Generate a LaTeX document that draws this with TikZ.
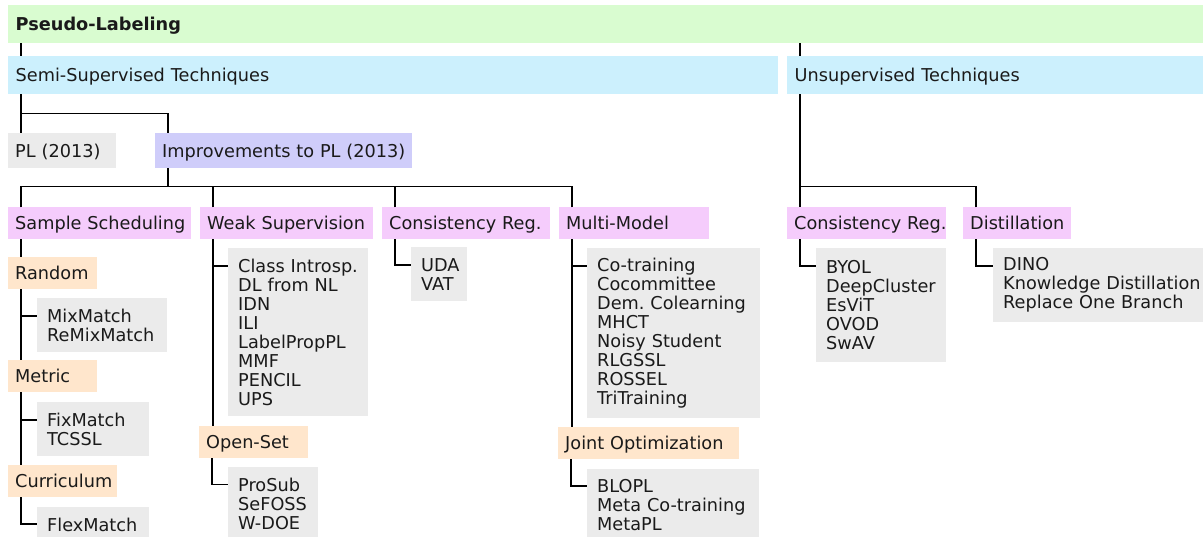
\documentclass[tikz,border=0pt]{standalone}
\usepackage{fontspec}
\setmainfont{DejaVu Sans}
\usetikzlibrary{calc}
\definecolor{rootgreen}{HTML}{D9FCD0}
\definecolor{techblue}{HTML}{CCF0FD}
\definecolor{imprviolet}{HTML}{CFCDFA}
\definecolor{grouppink}{HTML}{F5CCFC}
\definecolor{suborange}{HTML}{FFE6CC}
\definecolor{leafgray}{HTML}{EBEBEB}
\definecolor{ink}{HTML}{1A1A1A}
\newcommand{\boxfont}{\fontsize{17.7}{19}\selectfont\frenchspacing}
\newcommand{\padleft}[1]{\leftskip=#1\rightskip=0pt plus 1fil minus 30pt}
\tikzstyle{flat} = [anchor=north west, inner xsep=0pt, align=left, text=ink, font=\boxfont]
\tikzstyle{techbar} = [flat, inner ysep=0pt, minimum height=38pt, text height=12.9pt, text depth=0pt, execute at begin node={\padleft{7.5pt}}]
\tikzstyle{groupbox} = [flat, inner ysep=0pt, minimum height=31.7pt, text height=12.9pt, text depth=0pt, execute at begin node={\padleft{7pt}}]
\tikzstyle{listbox} = [flat, fill=leafgray, inner ysep=6pt, execute at begin node={\padleft{10pt}}]
\tikzstyle{edge} = [draw=black, line width=1.5pt]

\begin{document}
\begin{tikzpicture}[x=1pt, y=-1pt]
\useasboundingbox (0,0) rectangle (1203,537);

% Define nodes
\node[techbar, fill=rootgreen, text width=1195pt, font=\boxfont\bfseries] (root)  at (8,5)   {Pseudo-Labeling};
\node[techbar, fill=techblue, text width=770pt]                            (semi)  at (8,56)  {Semi-Supervised Techniques};
\node[techbar, fill=techblue, text width=416pt]                            (unsup) at (787,56) {Unsupervised Techniques};

\node[groupbox, fill=leafgray, text width=108pt, minimum height=35pt]      (pl)    at (8,133)   {PL (2013)};
\node[groupbox, fill=imprviolet, text width=257pt, minimum height=35pt]    (impr)  at (155,133) {Improvements to PL (2013)};

\node[groupbox, fill=grouppink, text width=183pt]    (sched)  at (8,207.3)   {Sample Scheduling};
\node[groupbox, fill=grouppink, text width=172.7pt]  (weak)   at (200,207.3) {Weak Supervision};
\node[groupbox, fill=grouppink, text width=168pt]    (consl)  at (382,207.3) {Consistency Reg.};
\node[groupbox, fill=grouppink, text width=150pt]    (multi)  at (559,207.3) {Multi-Model};
\node[groupbox, fill=grouppink, text width=158.7pt]  (consr)  at (787,207.3) {Consistency Reg.};
\node[groupbox, fill=grouppink, text width=108pt]    (distil) at (963,207.3) {Distillation};

\node[groupbox, fill=suborange, text width=88.7pt]   (rand)   at (8,257.3)   {Random};
\node[groupbox, fill=suborange, text width=88.7pt]   (metric) at (8,360.3)   {Metric};
\node[groupbox, fill=suborange, text width=109pt]    (curr)   at (8,465)     {Curriculum};
\node[groupbox, fill=suborange, text width=108.7pt]  (open)   at (199,426)   {Open-Set};
\node[groupbox, fill=suborange, text width=181pt]    (joint)  at (558,427.3) {Joint Optimization};

\node[listbox, text width=129.7pt, minimum height=53.4pt]  (mix)  at (37,298.3)  {MixMatch\\ReMixMatch};
\node[listbox, text width=111.7pt, minimum height=53.4pt]  (fix)  at (37,402.3)  {FixMatch\\TCSSL};
\node[listbox, text width=111.7pt, minimum height=35.4pt]  (flex) at (37,506.7)  {FlexMatch};
\node[listbox, text width=139.7pt, minimum height=167.4pt] (cls)  at (228,248.3) {Class Introsp.\\DL from NL\\IDN\\ILI\\LabelPropPL\\MMF\\PENCIL\\UPS};
\node[listbox, text width=89.7pt, minimum height=73.4pt]   (pro)  at (228,467)   {ProSub\\SeFOSS\\W-DOE};
\node[listbox, text width=55.7pt, minimum height=53.4pt]   (uda)  at (411,247.3) {UDA\\VAT};
\node[listbox, text width=173pt, minimum height=169.4pt]   (cot)  at (587,248.3) {Co-training\\Cocommittee\\Dem. Colearning\\MHCT\\Noisy Student\\RLGSSL\\ROSSEL\\TriTraining};
\node[listbox, text width=171.3pt, minimum height=73.4pt]  (blo)  at (587,468.3) {BLOPL\\Meta Co-training\\MetaPL};
\node[listbox, text width=129.7pt, minimum height=113.4pt] (byol) at (816,248.3) {BYOL\\DeepCluster\\EsViT\\OVOD\\SwAV};
\node[listbox, text width=215pt, minimum height=73.4pt]    (dino) at (993,248.3) {DINO\\Knowledge Distillation\\Replace One Branch};

% Trunk and hook points
\foreach \n in {semi,unsup,impr,sched,weak,consl,multi,consr,distil,rand,metric,curr,open,joint} {
  \coordinate (\n-t) at ($(\n.north west)+(13,0)$);
  \coordinate (\n-b) at ($(\n.south west)+(13,0)$);
}
\foreach \n in {mix,fix,flex,cls,pro,uda,cot,blo,byol,dino}
  \coordinate (\n-h) at ($(\n.north west)+(0,17.5)$);
\coordinate (bus) at ($(impr-b)+(0,18)$);

% Edges
\draw[edge] (semi-t) -- (semi-t |- root.south);
\draw[edge] (unsup-t) -- (unsup-t |- root.south);

\draw[edge] (semi-b) -- (semi-b |- pl.north);
\draw[edge] (impr-t) -- ++(0,-19.5) -| (semi-b);
\draw[edge] (impr-b) -- (bus);
\foreach \n in {sched,weak,consl,multi}
  \draw[edge] (\n-t) |- (bus);

\draw[edge] (unsup-b) -- (consr-t);
\draw[edge] (distil-t) |- (unsup-b |- bus);

\draw[edge] (sched-b) -- (rand-t);
\draw[edge] (rand-b) |- (mix-h);
\draw[edge] (rand-b) -- (metric-t);
\draw[edge] (metric-b) |- (fix-h);
\draw[edge] (metric-b) -- (curr-t);
\draw[edge] (curr-b) |- (flex-h);

\draw[edge] (weak-b) |- (cls-h);
\draw[edge] (weak-b) -- (weak-b |- open.north);
\draw[edge] (open-b) |- (pro-h);

\draw[edge] (consl-b) |- (uda-h);

\draw[edge] (multi-b) |- (cot-h);
\draw[edge] (multi-b) -- (multi-b |- joint.north);
\draw[edge] (joint-b) |- (blo-h);

\draw[edge] (consr-b) |- (byol-h);
\draw[edge] (distil-b) |- (dino-h);
\end{tikzpicture}
\end{document}
